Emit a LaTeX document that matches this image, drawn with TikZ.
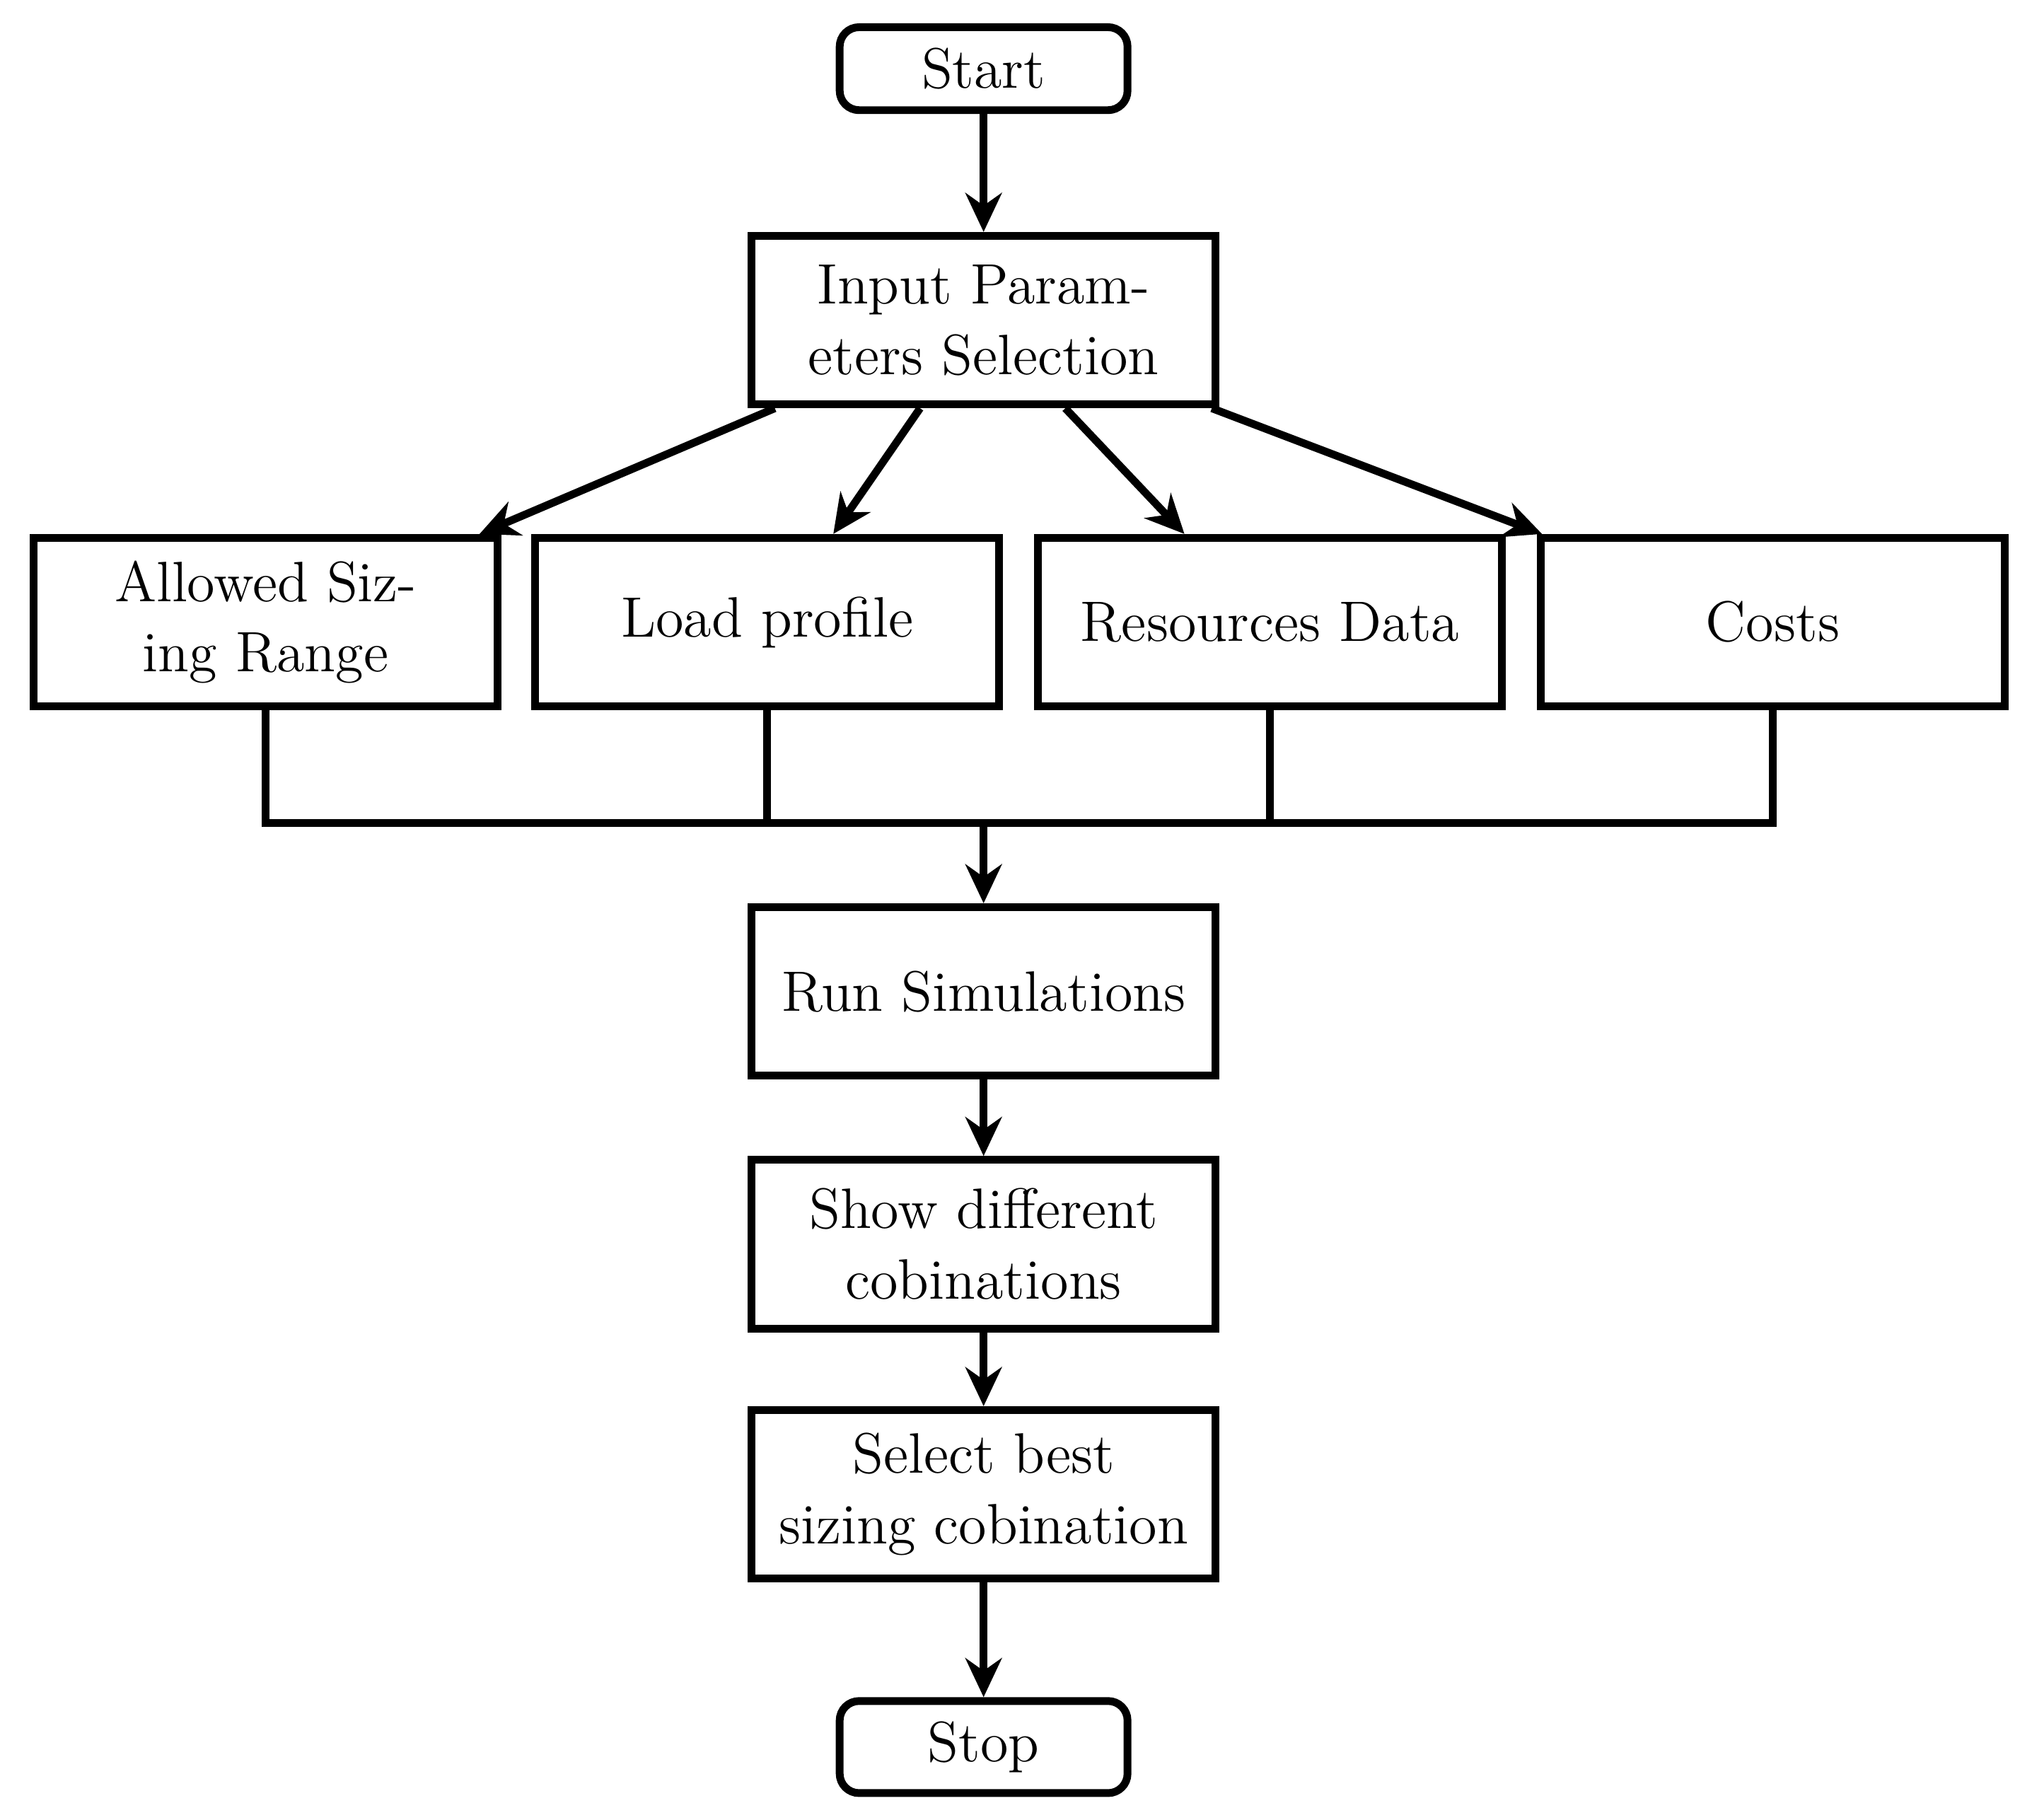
\documentclass[tikz,border=0pt]{standalone}
\usetikzlibrary{arrows.meta}
\begin{document}
\begin{tikzpicture}[x=0.01cm,y=0.01cm,
  box/.style={draw,line width=1.7pt,minimum width=3.58cm,minimum height=1.30cm,align=center,font=\fontsize{12.5}{15.5}\selectfont,inner sep=0pt},
  term/.style={draw,line width=1.7pt,rounded corners=0.15cm,minimum width=2.22cm,minimum height=0.64cm,font=\fontsize{12.5}{15.5}\selectfont,inner sep=0pt},
  arr/.style={line width=1.7pt,-{Stealth[length=0.3cm,width=0.28cm]}},
  ln/.style={line width=1.7pt}]
\useasboundingbox (0,0) rectangle (1568,-1404);
\node[term] (start) at (759,-53) {Start};
\node[box] (inp) at (759,-247) {Input Param-\\eters Selection};
\node[box] (a) at (205,-480) {Allowed Siz-\\ing Range};
\node[box] (b) at (592,-480) {Load profile};
\node[box] (c) at (980,-480) {Resources Data};
\node[box] (d) at (1368,-480) {Costs};
\node[box] (run) at (759,-765) {Run Simulations};
\node[box] (show) at (759,-960) {Show different\\cobinations};
\node[box] (sel) at (759,-1153) {Select best\\sizing cobination};
\node[term,minimum height=0.71cm] (stop) at (759,-1348) {Stop};
\coordinate (bus) at (759,-635);
\draw[arr] (start) -- (inp);
\draw[arr] ([xshift=-1.61cm]inp.south) -- ([xshift=1.65cm]a.north);
\draw[arr] ([xshift=-0.49cm]inp.south) -- ([xshift=0.51cm]b.north);
\draw[arr] ([xshift=0.63cm]inp.south) -- ([xshift=-0.66cm]c.north);
\draw[arr] ([xshift=1.76cm]inp.south) -- ([xshift=-1.78cm]d.north);
\draw[ln] (a.south) |- (d.south |- bus) -- (d.south);
\draw[ln] (b.south) -- (b.south |- bus);
\draw[ln] (c.south) -- (c.south |- bus);
\draw[arr] (bus) -- (run);
\draw[arr] (run) -- (show);
\draw[arr] (show) -- (sel);
\draw[arr] (sel) -- (stop);
\end{tikzpicture}
\end{document}
